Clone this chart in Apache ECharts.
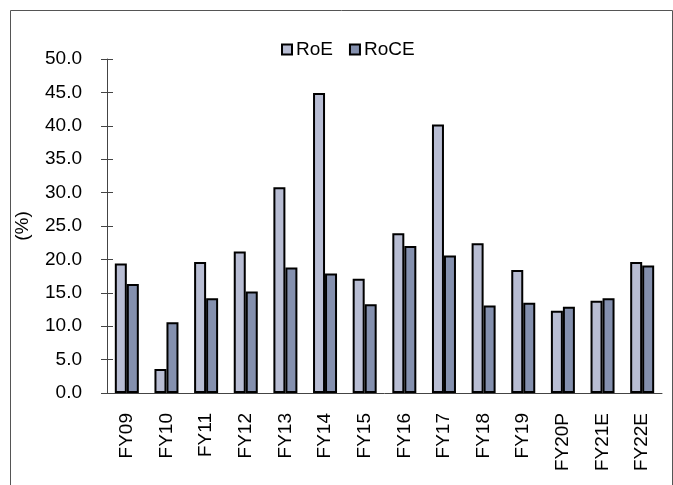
<!DOCTYPE html>
<html>
<head>
<meta charset="utf-8">
<script src="https://cdn.jsdelivr.net/npm/echarts@6/dist/echarts.min.js"></script>
<style>
  html, body { margin: 0; padding: 0; background: #fff; }
  #app { width: 673px; height: 485px; }
</style>
</head>
<body>
<div id="app"></div>
<script>
// categories and values
var years = ['FY09', 'FY10', 'FY11', 'FY12', 'FY13', 'FY14', 'FY15', 'FY16', 'FY17', 'FY18', 'FY19', 'FY20P', 'FY21E', 'FY22E'];
var roe = [19.4, 3.6, 19.6, 21.2, 30.8, 44.9, 17.1, 23.9, 40.2, 22.4, 18.4, 12.3, 13.8, 19.6];
var roce = [16.3, 10.6, 14.2, 15.2, 18.8, 17.9, 13.3, 22.0, 20.6, 13.1, 13.5, 12.9, 14.2, 19.1];

var font = 'Liberation Sans, Arial, sans-serif';
var myEchart = echarts.init(document.getElementById('app'));

myEchart.setOption({
    animation: false,
    textStyle: { fontFamily: font },
    graphic: [{
        type: 'rect',
        shape: { x: 10.5, y: 10.5, width: 662, height: 480 },
        style: { fill: 'none', stroke: '#555', lineWidth: 1 },
        silent: true
    }],
    legend: {
        top: 35,
        left: 276,
        itemWidth: 10,
        itemHeight: 10,
        itemGap: 16,
        icon: 'rect',
        textStyle: { fontSize: 19, color: '#000', fontFamily: font, padding: [0, 0, 0, -1] },
        data: ['RoE', 'RoCE']
    },
    grid: { left: 107, right: 11, top: 59, bottom: 92 },
    xAxis: [{
        type: 'category',
        data: years,
        axisLine: { lineStyle: { color: '#444', width: 1 } },
        axisTick: { length: 6, lineStyle: { color: '#444' } },
        axisLabel: { rotate: 90, margin: 20, fontSize: 19, color: '#000', fontFamily: font }
    }, {
        type: 'category',
        data: years,
        position: 'bottom',
        axisLine: { show: false },
        axisTick: { inside: true, length: 6, lineStyle: { color: '#444' } },
        axisLabel: { show: false }
    }],
    yAxis: [{
        type: 'value',
        min: 0,
        max: 50,
        interval: 5,
        name: '(%)',
        nameLocation: 'middle',
        nameGap: 75,
        nameRotate: 90,
        nameTextStyle: { fontSize: 19, color: '#000', fontFamily: font },
        splitLine: { show: false },
        axisLine: { show: true, lineStyle: { color: '#444', width: 1 } },
        axisTick: { show: true, length: 6, lineStyle: { color: '#444' } },
        axisLabel: {
            margin: 25, fontSize: 19, color: '#000', fontFamily: font,
            formatter: function (v) { return v.toFixed(1); }
        }
    }, {
        type: 'value',
        min: 0,
        max: 50,
        interval: 5,
        position: 'left',
        splitLine: { show: false },
        axisLine: { show: false },
        axisTick: { show: true, inside: true, length: 6, lineStyle: { color: '#444' } },
        axisLabel: { show: false }
    }],
    series: [{
        name: 'RoE',
        type: 'bar',
        data: roe,
        barWidth: 12,
        barGap: '0%',
        itemStyle: { color: '#b8bdd3', borderColor: '#000', borderWidth: 2 }
    }, {
        name: 'RoCE',
        type: 'bar',
        data: roce,
        barWidth: 12,
        barGap: '0%',
        itemStyle: { color: '#8490ae', borderColor: '#000', borderWidth: 2 }
    }]
});
</script>
</body>
</html>
